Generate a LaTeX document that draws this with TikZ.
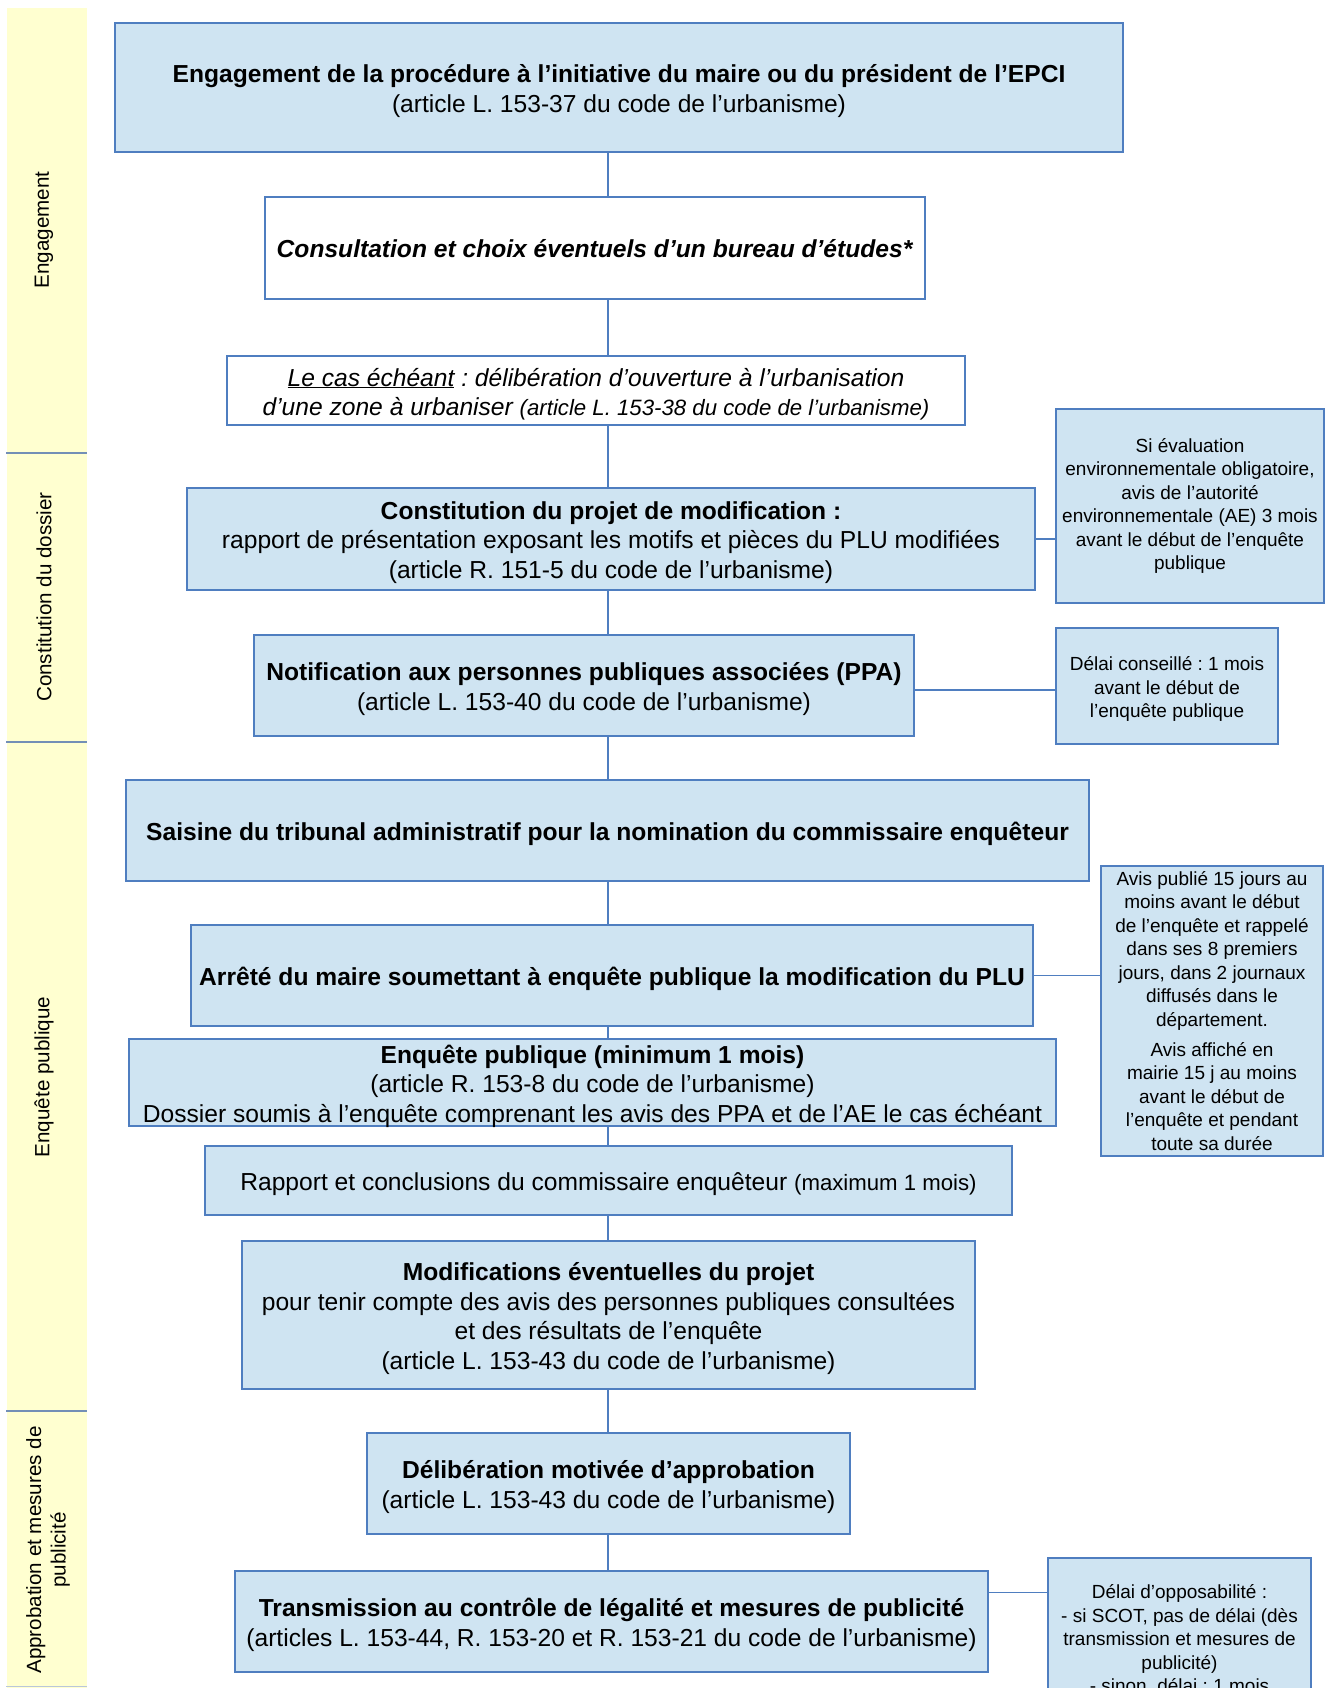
\documentclass[tikz,border=0pt]{standalone}
\usepackage{fontspec}
\setmainfont{Liberation Sans}
\usetikzlibrary{calc}
\definecolor{fillc}{RGB}{207,228,242}
\definecolor{bordc}{RGB}{79,126,192}
\definecolor{sidec}{RGB}{255,255,208}
\definecolor{sepc}{RGB}{115,143,182}
\newcommand\mainsz{\fontsize{24.6pt}{29.5pt}\selectfont\frenchspacing}
\newcommand\sidesz{\fontsize{19pt}{23.5pt}\selectfont\frenchspacing}
\newcommand\barsz{\fontsize{20.6pt}{24.5pt}\selectfont}
\newcommand\smallsz{\fontsize{22.2pt}{29.5pt}\selectfont}
\tikzset{
  mbox/.style={draw=bordc, fill=fillc, line width=1.5pt, inner sep=0pt},
  wbox/.style={mbox, fill=white},
  sbox/.style={draw=bordc, fill=fillc, line width=1.5pt, inner sep=0pt},
  mtext/.style={align=center, inner sep=0pt, font=\mainsz, yshift=-3.5pt},
  stext/.style={align=center, inner sep=0pt, font=\sidesz},
  conn/.style={draw=bordc, line width=1.3pt},
  barlabel/.style={rotate=90, align=center, font=\barsz, inner sep=0pt},
  sepline/.style={draw=sepc, line width=1.6pt}
}
% style, name, cx, cy, width, height, text style, text
\newcommand\placebox[8]{%
  \node[#1, minimum width=#5pt, minimum height=#6pt] (#2) at (#3,#4) {};
  \node[#7] (#2t) at (#2.center) {#8};}
\begin{document}
\begin{tikzpicture}[x=1pt,y=-1pt]
\clip (0,0) rectangle (1338,1688);
\fill[white] (0,0) rectangle (1338,1688);
% side bar
\fill[sidec] (7,8) rectangle (87,1688);
\draw[sepline] (6,453) -- (87,453);
\draw[sepline] (6,742) -- (87,742);
\draw[sepline] (6,1411) -- (87,1411);
\draw[draw=sepc!50, line width=1.2pt] (6,1686.5) -- (87,1686.5);
\node[barlabel] (lab1) at (44,230) {Engagement};
\node[barlabel] (lab2) at (44,597) {Constitution du dossier};
\node[barlabel] (lab3) at (44,1077) {Enquête publique};
\node[barlabel] (lab4) at (48,1550) {Approbation et mesures de\\publicité};

\coordinate (spine) at (608,0);

% main boxes
\placebox{mbox}{eng}{619}{87.5}{1008}{129}{mtext}
  {\textbf{Engagement de la procédure à l’initiative du maire ou du président de l’EPCI}\\(article L. 153-37 du code de l’urbanisme)}
\placebox{wbox}{cons}{595}{248}{660}{102}{mtext, yshift=2.5pt}
  {\textbf{\textit{Consultation et choix éventuels d’un bureau d’études*}}}
\placebox{wbox}{cas}{596}{390.5}{738}{69}{mtext}
  {\textit{\underline{Le cas échéant} : délibération d’ouverture à l’urbanisation}\\\textit{d’une zone à urbaniser {\smallsz (article L. 153-38 du code de l’urbanisme)}}}
\placebox{mbox}{constit}{611}{539}{848}{102}{mtext}
  {\textbf{Constitution du projet de modification :}\\rapport de présentation exposant les motifs et pièces du PLU modifiées\\(article R. 151-5 du code de l’urbanisme)}
\placebox{mbox}{notif}{584}{685.5}{660}{101}{mtext}
  {\textbf{Notification aux personnes publiques associées (PPA)}\\(article L. 153-40 du code de l’urbanisme)}
\placebox{mbox}{saisine}{607.5}{830.5}{963}{101}{mtext}
  {\textbf{Saisine du tribunal administratif pour la nomination du commissaire enquêteur}}
\placebox{mbox}{arrete}{612}{975.5}{842}{101}{mtext}
  {\textbf{Arrêté du maire soumettant à enquête publique la modification du PLU}}
\placebox{mbox}{enq}{592.5}{1082.5}{927}{87}{mtext}
  {\textbf{Enquête publique (minimum 1 mois)}\\(article R. 153-8 du code de l’urbanisme)\\Dossier soumis à l’enquête comprenant les avis des PPA et de l’AE le cas échéant}
\placebox{mbox}{rapport}{608.5}{1180.5}{807}{69}{mtext}
  {Rapport et conclusions du commissaire enquêteur {\smallsz (maximum 1 mois)}}
\placebox{mbox}{modif}{608.5}{1315}{733}{148}{mtext}
  {\textbf{Modifications éventuelles du projet}\\pour tenir compte des avis des personnes publiques consultées\\et des résultats de l’enquête\\(article L. 153-43 du code de l’urbanisme)}
\placebox{mbox}{delib}{608.5}{1483.5}{483}{101}{mtext}
  {\textbf{Délibération motivée d’approbation}\\(article L. 153-43 du code de l’urbanisme)}
\placebox{mbox}{trans}{611.5}{1621.5}{753}{101}{mtext}
  {\textbf{Transmission au contrôle de légalité et mesures de publicité}\\(articles L. 153-44, R. 153-20 et R. 153-21 du code de l’urbanisme)}

% side boxes
\placebox{sbox}{ae}{1190}{506}{268}{194}{stext}
  {Si évaluation\\environnementale obligatoire,\\avis de l’autorité\\environnementale (AE) 3 mois\\avant le début de l’enquête\\publique}
\placebox{sbox}{delai}{1167}{686}{222}{116}{stext, yshift=-3pt}
  {Délai conseillé : 1 mois\\avant le début de\\l’enquête publique}
\placebox{sbox}{avis}{1212}{1011}{222}{290}{stext}
  {Avis publié 15 jours au\\moins avant le début\\de l’enquête et rappelé\\dans ses 8 premiers\\jours, dans 2 journaux\\diffusés dans le\\département.\\[6.5pt]Avis affiché en\\mairie 15 j au moins\\avant le début de\\l’enquête et pendant\\toute sa durée}
\node[sbox, stext, anchor=north, minimum width=263pt, inner ysep=27pt] (oppo) at (1179.5,1557)
  {Délai d’opposabilité :\\- si SCOT, pas de délai (dès\\transmission et mesures de\\publicité)\\- sinon, délai : 1 mois};

% vertical connectors
\foreach \a/\b in {eng/cons, cons/cas, cas/constit, constit/notif, notif/saisine, saisine/arrete, arrete/enq, enq/rapport, rapport/modif, modif/delib, delib/trans}
  \draw[conn] (\a.south -| spine) -- (\b.north -| spine);

% side connectors
\draw[conn] (constit.east) -- (constit.east -| ae.west);
\coordinate (nc) at ([yshift=-4.5pt]notif.east);
\draw[conn] (nc) -- (nc -| delai.west);
\draw[conn] (arrete.east) -- (arrete.east -| avis.west);
\coordinate (tc) at ([yshift=-22pt]trans.north east);
\draw[conn] (tc) -- (tc -| oppo.west);
\end{tikzpicture}
\end{document}
